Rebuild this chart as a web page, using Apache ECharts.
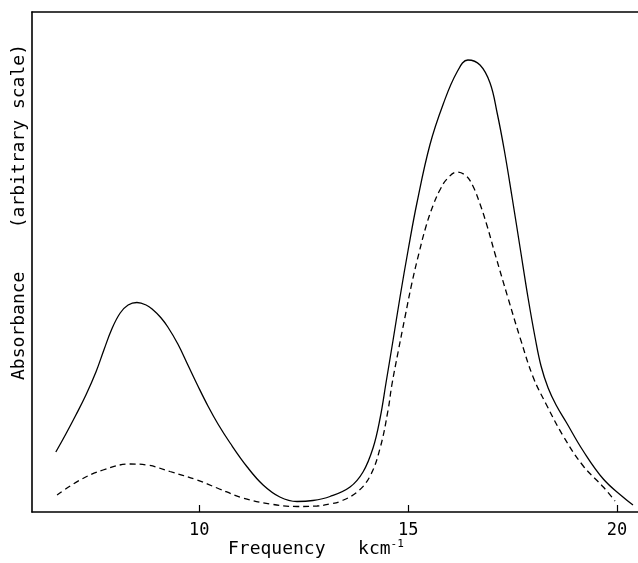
<!DOCTYPE html>
<html>
<head>
<meta charset="utf-8">
<script src="https://cdn.jsdelivr.net/npm/echarts@6/dist/echarts.min.js"></script>
<style>
html,body{margin:0;padding:0;background:#fff;}
#chart{width:638px;height:563px;}
</style>
</head>
<body>
<div id="chart"></div>
<script>
var xTicks = [10, 15, 20];
var xTitle = 'Frequency';
var xUnit = 'kcm';
var yTitle = 'Absorbance    (arbitrary scale)';

var solidX = [6.57, 6.81, 7.05, 7.29, 7.53, 7.72, 7.91, 8.11, 8.30, 8.51, 8.73, 8.90, 9.08, 9.25, 9.49, 9.73, 9.97, 10.21, 10.45, 10.74, 11.15, 11.53, 11.93, 12.34, 12.72, 13.13, 13.61, 13.92, 14.16, 14.33, 14.47, 14.64, 14.81, 15.00, 15.21, 15.52, 15.84, 16.17, 16.43, 16.72, 16.96, 17.13, 17.30, 17.49, 17.68, 17.87, 18.04, 18.18, 18.35, 18.54, 18.78, 19.19, 19.67, 20.14, 20.38];
var solidY = [12.0, 15.6, 19.4, 23.4, 28.0, 32.4, 36.6, 39.8, 41.4, 41.9, 41.4, 40.4, 38.9, 37.0, 33.6, 29.4, 25.2, 21.2, 17.6, 13.8, 9.0, 5.4, 3.0, 2.1, 2.3, 3.1, 5.0, 8.0, 12.8, 18.8, 25.8, 34.4, 43.2, 52.4, 61.8, 73.4, 81.6, 88.0, 90.4, 89.4, 85.8, 79.8, 72.4, 62.8, 52.8, 42.8, 34.8, 29.2, 24.8, 21.4, 18.0, 12.2, 6.6, 3.0, 1.4];

var dashedX = [6.60, 7.15, 7.70, 8.35, 8.75, 9.30, 9.95, 10.43, 11.05, 11.70, 12.34, 12.82, 13.13, 13.37, 13.78, 14.09, 14.33, 14.52, 14.61, 14.76, 14.93, 15.09, 15.26, 15.43, 15.60, 15.76, 15.93, 16.17, 16.39, 16.55, 16.72, 16.89, 17.08, 17.39, 17.68, 17.99, 18.30, 18.71, 19.19, 19.67, 19.95];
var dashedY = [3.4, 6.4, 8.4, 9.6, 9.4, 8.1, 6.4, 4.8, 2.8, 1.6, 1.1, 1.2, 1.6, 2.1, 4.0, 7.2, 12.8, 20.4, 25.4, 32.0, 39.2, 45.8, 51.8, 57.2, 61.4, 64.4, 66.6, 68.0, 67.2, 65.2, 61.6, 57.2, 51.6, 42.8, 34.8, 27.0, 21.6, 15.2, 9.2, 5.0, 2.2];

function pairs(xs, ys) { return xs.map(function (x, i) { return [x, ys[i]]; }); }

var chart = echarts.init(document.getElementById('chart'), null, {renderer: 'canvas'});
var font = 'DejaVu Sans Mono';
chart.setOption({
  backgroundColor: '#ffffff',
  animation: false,
  grid: {left: 32, right: 0, top: 12, bottom: 51, containLabel: false},
  xAxis: [{
    type: 'value', min: 6, max: 20.5, position: 'bottom',
    axisLine: {show: true, lineStyle: {color: '#000', width: 1.6}},
    axisTick: {show: true, inside: true, length: 7, customValues: xTicks, lineStyle: {color: '#000', width: 1.2}},
    axisLabel: {show: true, customValues: xTicks, color: '#000', fontSize: 17, fontFamily: font, margin: 10},
    splitLine: {show: false}
  }, {
    type: 'value', min: 6, max: 20.5, position: 'top',
    axisLine: {show: true, onZero: false, lineStyle: {color: '#000', width: 1.6}},
    axisTick: {show: false}, axisLabel: {show: false}, splitLine: {show: false}
  }],
  yAxis: {
    type: 'value', min: 0, max: 100,
    axisLine: {show: true, lineStyle: {color: '#000', width: 1.6}},
    axisTick: {show: false}, axisLabel: {show: false}, splitLine: {show: false}
  },
  graphic: [{
    type: 'text', left: 228, top: 539,
    style: {
      text: '{a|' + xTitle + '   ' + xUnit + '}{s|-1}',
      rich: {
        a: {fontSize: 18, fontFamily: font, fill: '#000'},
        s: {fontSize: 11, fontFamily: font, fill: '#000', verticalAlign: 'top', padding: [0, 0, 10, 0]}
      }
    }
  }, {
    type: 'text', x: 19, y: 212, rotation: Math.PI / 2,
    style: {text: yTitle, fontSize: 18, fontFamily: font, fill: '#000', align: 'center', verticalAlign: 'middle'}
  }],
  series: [{
    type: 'line', data: pairs(solidX, solidY), smooth: 0.4, symbol: 'none',
    lineStyle: {color: '#000', width: 1.3}
  }, {
    type: 'line', data: pairs(dashedX, dashedY), smooth: 0.4, symbol: 'none',
    lineStyle: {color: '#000', width: 1.3, type: [6, 4]}
  }]
});
</script>
</body>
</html>
